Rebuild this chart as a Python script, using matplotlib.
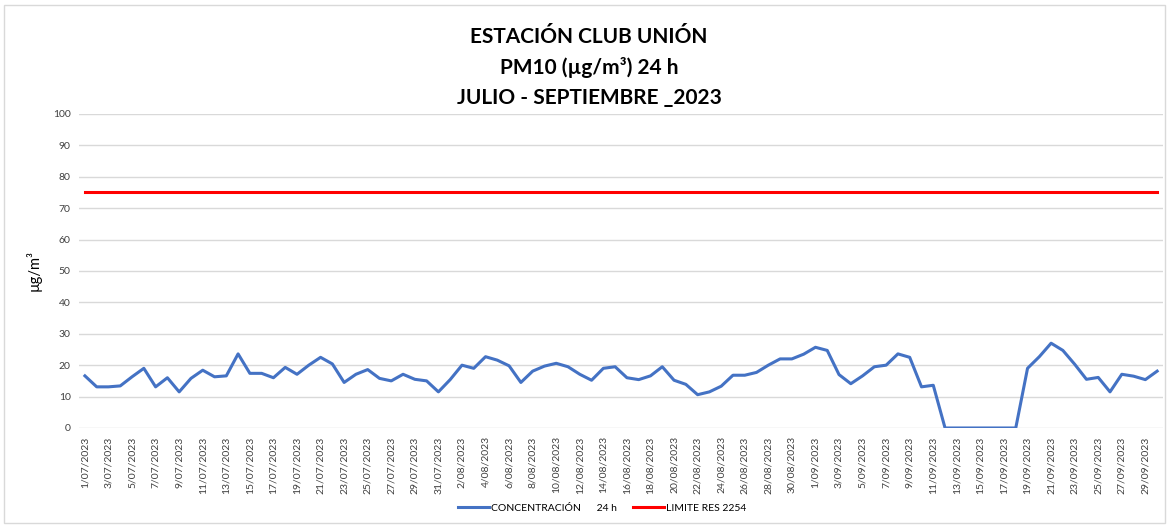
import pandas as pd
import matplotlib
matplotlib.use('Agg')
import matplotlib.pyplot as plt
from matplotlib.patches import Rectangle

# dias del periodo
fechas = pd.date_range('2023-07-01', '2023-09-30', freq='D')
etiquetas = [f'{d.day}/{d.month:02d}/{d.year}' for d in fechas]

# concentracion PM10 24 h (ug/m3)
concentracion = [16.6, 13.1, 13.1, 13.4, 16.3, 19.0, 13.1, 16.0, 11.5, 15.8,
                 18.4, 16.3, 16.6, 23.6, 17.4, 17.4, 16.0, 19.3, 17.1, 20.0,
                 22.5, 20.4, 14.5, 17.1, 18.6, 15.8, 15.0, 17.1, 15.5, 15.0,
                 11.5, 15.4, 20.0, 19.0, 22.7, 21.6, 19.8, 14.5, 18.1, 19.7,
                 20.6, 19.5, 17.1, 15.2, 19.0, 19.5, 16.0, 15.4, 16.6, 19.5,
                 15.2, 13.9, 10.6, 11.5, 13.3, 16.8, 16.8, 17.7, 20.0, 22.0,
                 22.0, 23.5, 25.7, 24.7, 17.0, 14.1, 16.6, 19.5, 20.0, 23.6,
                 22.5, 13.1, 13.6, 0, 0, 0, 0, 0, 0, 0,
                 19.0, 22.7, 27.0, 24.7, 20.3, 15.5, 16.1, 11.5, 17.1, 16.5,
                 15.4, 18.1]
limite = [75] * len(fechas)

plt.rcParams['font.family'] = ['Lato', 'DejaVu Sans']

fig = plt.figure(figsize=(11.69, 5.25), dpi=100)
ax = fig.add_axes([0.0676, 0.1848, 0.9273, 0.5981])

x = list(range(len(fechas)))
ax.plot(x, concentracion, color='#4472C4', lw=2.2, label='CONCENTRACIÓN      24 h')
ax.plot(x, limite, color='#FF0000', lw=2.2, label='LIMITE RES 2254')

ax.set_xlim(-0.5, len(fechas) - 0.5)
ax.set_ylim(0, 100)
ax.set_yticks(range(0, 101, 10))
ax.set_xticks(x[::2])
ax.set_xticklabels(etiquetas[::2], rotation=90, fontsize=7.5, color='#404040')
ax.tick_params(axis='y', labelsize=7.5, labelcolor='#404040', length=0, pad=6)
ax.tick_params(axis='x', length=0, pad=6)
ax.grid(axis='y', color='#D9D9D9', lw=1)
ax.set_axisbelow(True)
for s in ax.spines.values():
    s.set_visible(False)

ax.set_ylabel('µg/m³', fontsize=10.5, labelpad=8)

fig.text(0.504, 0.948, 'ESTACIÓN CLUB UNIÓN\nPM10 (µg/m³) 24 h\nJULIO - SEPTIEMBRE _2023',
         ha='center', va='top', fontsize=15, fontweight='bold', linespacing=1.6)

leg = fig.legend(loc='center', bbox_to_anchor=(0.515, 0.032), ncol=2, frameon=False,
                 fontsize=7.5, handlelength=3.0, handletextpad=0.2, columnspacing=1.5)

fig.patches.append(Rectangle((0.003, 0.003), 0.994, 0.988, transform=fig.transFigure,
                             fill=False, edgecolor='#D9D9D9', lw=1))

fig.savefig('out.png', dpi=100)
